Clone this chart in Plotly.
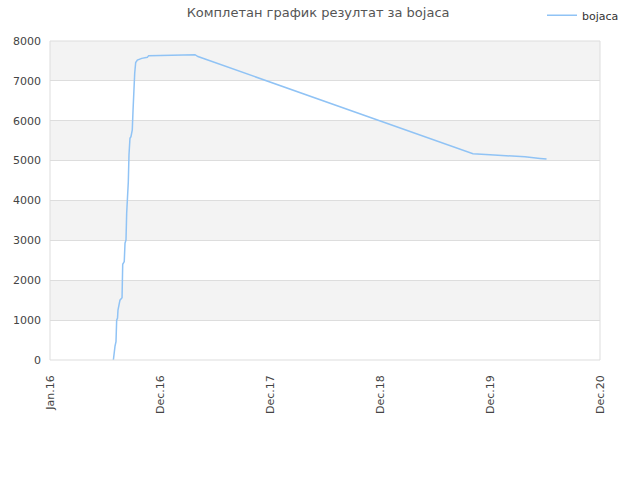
import plotly.graph_objects as go

# x positions in axis units (0 = Jan.16, 1 = Dec.16, ... 5 = Dec.20)
x_pos = [
    0.576, 0.582, 0.591, 0.6, 0.606, 0.614, 0.618, 0.636, 0.655, 0.661,
    0.675, 0.682, 0.691, 0.697, 0.706, 0.712, 0.718, 0.727, 0.736, 0.748,
    0.755, 0.761, 0.77, 0.779, 0.794, 0.834, 0.885, 0.897, 1.091, 1.109,
    1.318, 1.345, 3.845, 4.0, 4.182, 4.318, 4.455, 4.514,
]
scores = [
    0, 180, 350, 460, 1000, 1050, 1250, 1500, 1560, 2400,
    2470, 2930, 3010, 3680, 4010, 4470, 5140, 5560, 5600, 5770,
    6270, 6850, 7190, 7460, 7520, 7565, 7590, 7633, 7640, 7657,
    7657, 7610, 5175, 5150, 5125, 5095, 5055, 5040,
]
tick_labels = ["Jan.16", "Dec.16", "Dec.17", "Dec.18", "Dec.19", "Dec.20"]
band_starts = [1000, 3000, 5000, 7000]

fig = go.Figure()
fig.add_trace(go.Scatter(
    x=x_pos, y=scores, mode="lines", name="bojaca",
    line=dict(color="#90c3f5", width=1.5),
))

shapes = []
for b in band_starts:
    shapes.append(dict(type="rect", xref="paper", yref="y", x0=0, x1=1, y0=b, y1=b + 1000,
                       fillcolor="#f3f3f3", line=dict(width=0), layer="below"))
shapes.append(dict(type="rect", xref="paper", yref="paper", x0=0, x1=1, y0=0, y1=1,
                   line=dict(color="#dddddd", width=1)))

fig.update_layout(
    width=640, height=480,
    margin=dict(l=50, r=40, t=41, b=120, autoexpand=False),
    paper_bgcolor="white", plot_bgcolor="white",
    font=dict(family="DejaVu Sans", size=11, color="#444444"),
    title=dict(text="Комплетан график резултат за bojaca", x=0.497, xanchor="center",
               yref="container", y=0.975, yanchor="middle", font=dict(size=13, color="#555555")),
    showlegend=True,
    legend=dict(x=0.975, y=0.968, xref="container", yref="container", xanchor="right",
                yanchor="middle", bgcolor="rgba(0,0,0,0)", itemwidth=30,
                font=dict(size=11, color="#333333")),
    shapes=shapes,
    xaxis=dict(range=[0, 5], tickmode="array", tickvals=list(range(len(tick_labels))),
               ticktext=tick_labels, tickangle=-90, showgrid=False, zeroline=False,
               showline=False, ticks="", ticklabelstandoff=12, automargin=False),
    yaxis=dict(range=[0, 8000], dtick=1000, showgrid=True, gridcolor="#dddddd",
               zeroline=False, showline=False, ticks="", tickformat="d",
               ticklabelstandoff=8, automargin=False),
)

fig.write_html("out.html", config={"displayModeBar": False},
               post_script="document.body.style.margin='0';")
